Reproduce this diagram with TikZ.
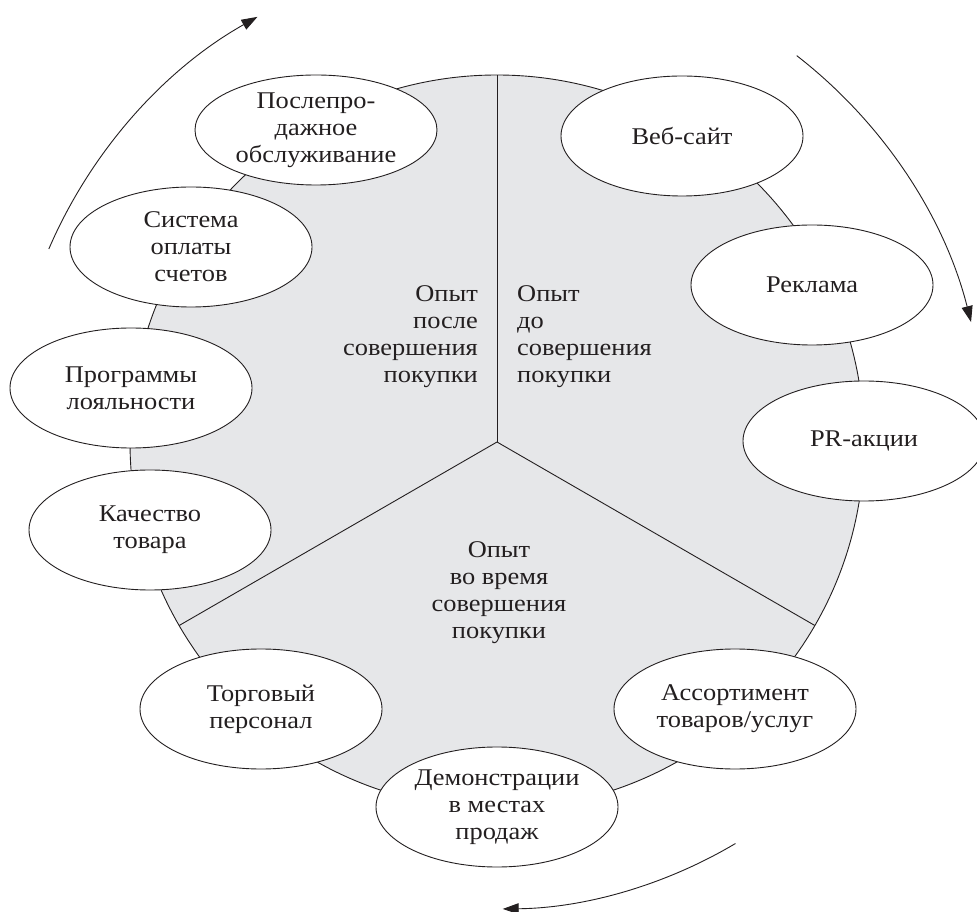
\documentclass[tikz,border=0pt]{standalone}
\usepackage{fontspec}
\setmainfont{Liberation Serif}[FakeStretch=1.1]
\usetikzlibrary{shapes.geometric,arrows.meta,calc}
\definecolor{sectorgray}{HTML}{E6E7E9}
\definecolor{inkcol}{HTML}{231F20}
\tikzset{
  bubble/.style={ellipse, draw=inkcol, line width=0.9pt, fill=white, inner sep=-8pt,
    minimum width=242pt, minimum height=120pt, align=center, text=inkcol,
    font=\fontsize{24}{27}\selectfont},
  zone/.style={inner sep=0pt, text=inkcol, font=\fontsize{24}{27}\selectfont},
  divider/.style={draw=inkcol, line width=0.9pt},
  cycle arrow/.style={draw=inkcol, line width=0.9pt, -{Triangle[length=16pt,width=11pt]}}
}
\begin{document}
\begin{tikzpicture}[x=1pt,y=1pt]
\useasboundingbox (0,0) rectangle (977,911);
\coordinate (C) at (497,469);
\coordinate (Ptop) at ($(C)+(90:367)$);
\coordinate (Pleft) at ($(C)+(210:367)$);
\coordinate (Pright) at ($(C)+(330:367)$);
% disc
\fill[sectorgray] (C) circle[radius=367];
\draw[divider] (C) circle[radius=367];
\draw[divider] (C) -- (Ptop);
\draw[divider] (C) -- (Pleft);
\draw[divider] (C) -- (Pright);
% zone labels
\node[zone, anchor=east, align=right] (after) at (478,574) {Опыт\\после\\совершения\\покупки};
\node[zone, anchor=west, align=left] (before) at (517,574) {Опыт\\до\\совершения\\покупки};
\node[zone, align=center] (during) at (499,318) {Опыт\\во время\\совершения\\покупки};
% bubbles
\node[bubble, minimum height=110pt] (post) at (316,781) {Послепро-\\дажное\\обслуживание};
\node[bubble] (pay) at (191,664) {Система\\оплаты\\счетов};
\node[bubble] (loyal) at (131,523) {Программы\\лояльности};
\node[bubble] (quality) at (150,381) {Качество\\товара};
\node[bubble] (staff) at (261,202) {Торговый\\персонал};
\node[bubble] (demo) at (497,104) {Демонстрации\\в местах\\продаж};
\node[bubble] (assort) at (735,202) {Ассортимент\\товаров/услуг};
\node[bubble] (pr) at (864,470) {PR-акции};
\node[bubble] (ad) at (812,626) {Реклама};
\node[bubble] (web) at (682,775) {Веб-сайт};
% cycle arrows
\coordinate (a1) at ($(C)+(156.7:488)$);
\coordinate (a2) at ($(C)+(52.2:489)$);
\coordinate (a3) at ($(C)+(-59.3:467)$);
\draw[cycle arrow] (a1) arc[start angle=156.7, end angle=119.4, radius=488];
\draw[cycle arrow] (a2) arc[start angle=52.2, end angle=14.2, radius=489];
\draw[cycle arrow] (a3) arc[start angle=-59.3, end angle=-89.3, radius=467];
\end{tikzpicture}
\end{document}
